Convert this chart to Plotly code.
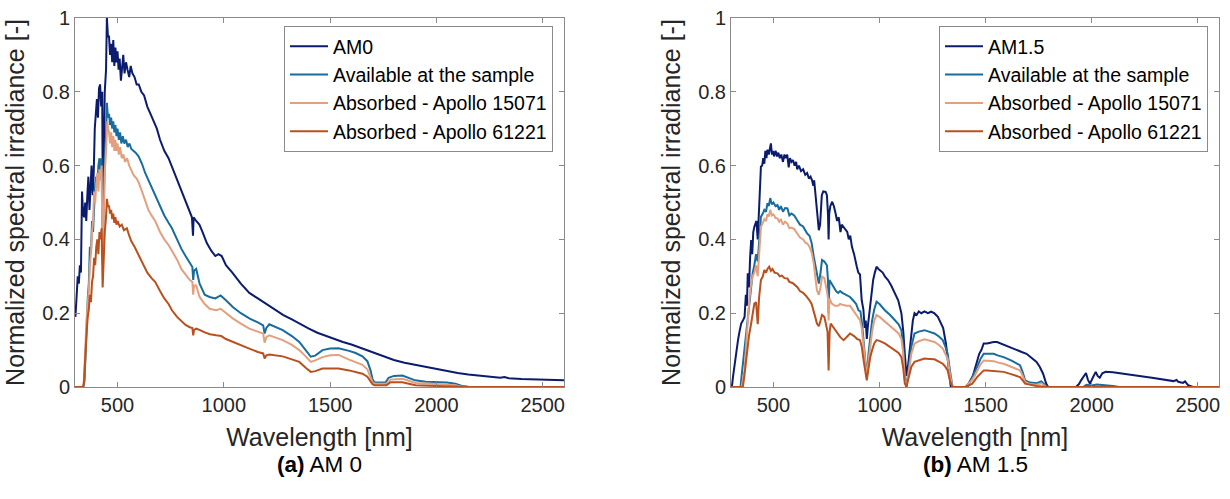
import plotly.graph_objects as go

# ---------------- (a) AM0 ----------------
wl_am0 = [302, 308, 313, 318, 323, 328, 333, 338, 343, 348, 353, 358, 363, 368, 373, 378, 383, 388, 393, 398,
          403, 408, 413, 418, 423, 428, 431, 435, 440, 446, 450, 455, 460, 465, 470, 475, 480, 485, 490, 495,
          500, 505, 510, 516, 520, 527, 533, 540, 547, 555, 562, 570, 580, 590, 600, 612, 625, 640, 655, 670,
          685, 700, 720, 740, 760, 780, 800, 820, 840, 850, 855, 858, 870, 885, 900, 920, 940, 960, 975, 990,
          1010, 1040, 1080, 1120, 1160, 1200, 1240, 1280, 1320, 1360, 1400, 1440, 1480, 1520, 1560, 1600, 1650, 1700, 1750, 1800,
          1850, 1900, 1950, 2000, 2050, 2100, 2150, 2200, 2250, 2300, 2320, 2340, 2400, 2450, 2500, 2550, 2600]
am0 = [0.19, 0.26, 0.30, 0.28, 0.33, 0.31, 0.53, 0.47, 0.46, 0.50, 0.45, 0.52, 0.57, 0.48, 0.55, 0.60, 0.52, 0.58, 0.70, 0.76,
       0.78, 0.73, 0.81, 0.82, 0.76, 0.80, 0.44, 0.62, 0.80, 0.86, 1.00, 0.95, 0.95, 0.90, 0.93, 0.88, 0.94, 0.87, 0.92, 0.88,
       0.91, 0.86, 0.89, 0.83, 0.86, 0.90, 0.85, 0.88, 0.86, 0.84, 0.87, 0.85, 0.84, 0.82, 0.82, 0.80, 0.79, 0.76, 0.74, 0.72,
       0.70, 0.67, 0.64, 0.62, 0.59, 0.56, 0.53, 0.50, 0.47, 0.46, 0.41, 0.46, 0.45, 0.44, 0.42, 0.39, 0.37, 0.355, 0.36, 0.355,
       0.33, 0.31, 0.28, 0.255, 0.24, 0.225, 0.21, 0.195, 0.183, 0.17, 0.158, 0.147, 0.138, 0.13, 0.122, 0.115, 0.104, 0.095, 0.084, 0.073,
       0.066, 0.06, 0.054, 0.048, 0.043, 0.038, 0.034, 0.031, 0.028, 0.025, 0.027, 0.024, 0.022, 0.021, 0.02, 0.019, 0.018]

wl_avail_a = [300, 340, 345, 350, 355, 360, 365, 370, 375, 380, 385, 390, 395, 400, 405, 410, 415, 420, 425, 430,
              434, 440, 446, 450, 455, 460, 465, 470, 475, 480, 485, 490, 495, 500, 506, 512, 518, 525, 532, 540,
              548, 556, 565, 575, 585, 599, 615, 630, 645, 660, 677, 700, 720, 740, 756, 780, 800, 820, 840, 852,
              856, 860, 870, 886, 910, 933, 960, 985, 1010, 1042, 1080, 1120, 1160, 1185, 1192, 1200, 1214, 1240, 1277, 1320,
              1355, 1385, 1409, 1430, 1464, 1500, 1540, 1589, 1620, 1652, 1675, 1690, 1700, 1710, 1760, 1775, 1800, 1840, 1870, 1900,
              1950, 2000, 2050, 2089, 2120, 2150, 2200, 2600]
avail_a = [0, 0, 0.02, 0.10, 0.19, 0.24, 0.28, 0.38, 0.36, 0.45, 0.42, 0.50, 0.55, 0.57, 0.54, 0.60, 0.62, 0.58, 0.62, 0.36,
           0.50, 0.62, 0.68, 0.77, 0.73, 0.74, 0.71, 0.73, 0.70, 0.72, 0.69, 0.71, 0.68, 0.70, 0.67, 0.69, 0.66, 0.68, 0.66, 0.67,
           0.65, 0.66, 0.645, 0.64, 0.635, 0.625, 0.605, 0.58, 0.56, 0.54, 0.52, 0.49, 0.465, 0.445, 0.43, 0.40, 0.375, 0.355, 0.335, 0.325,
           0.29, 0.315, 0.32, 0.28, 0.25, 0.244, 0.24, 0.248, 0.235, 0.217, 0.20, 0.186, 0.175, 0.167, 0.145, 0.16, 0.17, 0.163, 0.154, 0.138,
           0.122, 0.10, 0.082, 0.085, 0.10, 0.104, 0.105, 0.098, 0.092, 0.083, 0.07, 0.045, 0.02, 0.012, 0.012, 0.025, 0.03, 0.031, 0.025, 0.018,
           0.014, 0.013, 0.012, 0.009, 0.003, 0.001, 0.0, 0.0]

wl_abs1_a = [300, 338, 342, 346, 350, 355, 360, 365, 370, 375, 380, 385, 390, 395, 400, 405, 410, 415, 420, 425,
             430, 434, 440, 446, 452, 456, 460, 465, 470, 475, 480, 485, 490, 495, 500, 506, 512, 520, 528, 535,
             545, 555, 565, 575, 590, 599, 615, 630, 645, 660, 677, 700, 720, 740, 756, 780, 800, 820, 840, 852,
             856, 860, 870, 886, 910, 933, 964, 985, 1010, 1042, 1080, 1120, 1160, 1185, 1192, 1200, 1214, 1240, 1277, 1320,
             1355, 1385, 1409, 1430, 1464, 1500, 1540, 1589, 1620, 1652, 1675, 1690, 1700, 1710, 1765, 1785, 1840, 1870, 1902, 2000,
             2089, 2120, 2200, 2600]
abs1_a = [0, 0, 0.02, 0.08, 0.15, 0.19, 0.23, 0.26, 0.33, 0.36, 0.42, 0.45, 0.53, 0.50, 0.55, 0.58, 0.53, 0.59, 0.56, 0.60,
          0.33, 0.47, 0.58, 0.64, 0.72, 0.70, 0.69, 0.66, 0.69, 0.65, 0.68, 0.64, 0.67, 0.64, 0.66, 0.63, 0.65, 0.62, 0.63, 0.61,
          0.62, 0.60, 0.585, 0.575, 0.565, 0.555, 0.53, 0.505, 0.48, 0.465, 0.45, 0.42, 0.40, 0.385, 0.37, 0.345, 0.32, 0.305, 0.29, 0.285,
          0.25, 0.275, 0.275, 0.244, 0.225, 0.212, 0.208, 0.212, 0.20, 0.186, 0.172, 0.158, 0.15, 0.145, 0.12, 0.135, 0.14, 0.135, 0.127, 0.114,
          0.10, 0.083, 0.068, 0.072, 0.081, 0.086, 0.087, 0.074, 0.068, 0.06, 0.048, 0.028, 0.012, 0.009, 0.009, 0.02, 0.022, 0.017, 0.011, 0.008,
          0.005, 0.001, 0.0, 0.0]

wl_abs2_a = [300, 338, 342, 346, 350, 355, 360, 365, 370, 375, 380, 385, 390, 395, 400, 405, 410, 415, 420, 425,
             430, 434, 440, 446, 450, 455, 460, 465, 470, 475, 480, 485, 490, 495, 500, 510, 520, 530, 544, 555,
             565, 580, 599, 620, 640, 660, 677, 700, 720, 740, 756, 780, 800, 820, 840, 852, 856, 860, 870, 886,
             910, 935, 964, 988, 1010, 1042, 1080, 1120, 1160, 1185, 1192, 1200, 1214, 1240, 1277, 1320, 1355, 1385, 1409, 1430,
             1464, 1500, 1540, 1589, 1620, 1652, 1675, 1690, 1700, 1710, 1765, 1785, 1840, 1870, 1902, 2000, 2100, 2150, 2600]
abs2_a = [0, 0, 0.01, 0.06, 0.12, 0.15, 0.19, 0.21, 0.25, 0.23, 0.285, 0.30, 0.35, 0.33, 0.38, 0.40, 0.36, 0.42, 0.40, 0.43,
          0.27, 0.36, 0.42, 0.46, 0.51, 0.49, 0.49, 0.47, 0.48, 0.455, 0.47, 0.445, 0.46, 0.44, 0.45, 0.435, 0.44, 0.425, 0.43, 0.41,
          0.395, 0.38, 0.357, 0.33, 0.31, 0.295, 0.285, 0.26, 0.24, 0.225, 0.208, 0.19, 0.178, 0.168, 0.162, 0.16, 0.14, 0.155, 0.158, 0.155,
          0.148, 0.143, 0.14, 0.138, 0.13, 0.122, 0.112, 0.104, 0.095, 0.091, 0.077, 0.086, 0.088, 0.086, 0.083, 0.075, 0.068, 0.052, 0.041, 0.043,
          0.05, 0.05, 0.05, 0.045, 0.041, 0.036, 0.028, 0.016, 0.007, 0.005, 0.005, 0.013, 0.013, 0.009, 0.005, 0.003, 0.001, 0.0, 0.0]

# ---------------- (b) AM1.5 ----------------
wl_am15 = [300, 305, 310, 317, 325, 333, 340, 348, 356, 364, 370, 375, 379, 385, 390, 395, 400, 405, 410, 415,
           420, 426, 430, 436, 441, 447, 452, 457, 462, 467, 472, 478, 483, 488, 493, 498, 503, 510, 517, 523,
           530, 537, 545, 552, 558, 565, 572, 578, 585, 592, 600, 607, 612, 620, 630, 640, 650, 659, 667, 675,
           682, 688, 692, 697, 705, 714, 720, 728, 735, 746, 752, 757, 760, 763, 768, 777, 785, 793, 800, 808,
           816, 822, 831, 840, 848, 855, 862, 870, 880, 893, 900, 908, 916, 924, 930, 935, 940, 946, 952, 958,
           963, 970, 978, 986, 995, 1005, 1015, 1025, 1040, 1055, 1072, 1088, 1103, 1112, 1119, 1127, 1135, 1142, 1150, 1157,
           1165, 1175, 1185, 1197, 1212, 1228, 1243, 1258, 1275, 1290, 1300, 1313, 1325, 1336, 1414, 1429, 1440, 1450, 1460, 1470,
           1480, 1491, 1507, 1520, 1538, 1554, 1570, 1590, 1616, 1631, 1650, 1670, 1693, 1715, 1740, 1755, 1771, 1785, 1794, 1926,
           1940, 1950, 1962, 1973, 1982, 1992, 2005, 2019, 2028, 2038, 2050, 2066, 2100, 2128, 2160, 2206, 2250, 2284, 2320, 2361,
           2385, 2400, 2408, 2430, 2440, 2454, 2478, 2600]
am15 = [0, 0.005, 0.03, 0.063, 0.10, 0.127, 0.15, 0.172, 0.18, 0.19, 0.25, 0.22, 0.308, 0.27, 0.35, 0.398, 0.36, 0.42, 0.434, 0.44,
        0.45, 0.40, 0.45, 0.55, 0.597, 0.60, 0.62, 0.605, 0.64, 0.62, 0.643, 0.63, 0.65, 0.66, 0.63, 0.64, 0.625, 0.64, 0.625, 0.635,
        0.62, 0.63, 0.61, 0.63, 0.62, 0.63, 0.595, 0.62, 0.61, 0.615, 0.60, 0.61, 0.59, 0.60, 0.585, 0.59, 0.575, 0.58, 0.565, 0.57,
        0.56, 0.545, 0.56, 0.52, 0.48, 0.425, 0.44, 0.52, 0.53, 0.529, 0.52, 0.47, 0.40, 0.47, 0.49, 0.502, 0.49, 0.47, 0.45, 0.46,
        0.42, 0.44, 0.434, 0.425, 0.42, 0.40, 0.41, 0.38, 0.36, 0.326, 0.31, 0.305, 0.235, 0.21, 0.16, 0.18, 0.13, 0.17, 0.20, 0.23,
        0.271, 0.29, 0.31, 0.326, 0.32, 0.315, 0.31, 0.30, 0.29, 0.275, 0.254, 0.235, 0.20, 0.15, 0.091, 0.03, 0.06, 0.10, 0.15, 0.18,
        0.20, 0.195, 0.205, 0.20, 0.205, 0.20, 0.204, 0.20, 0.19, 0.172, 0.16, 0.118, 0.06, 0.0, 0.0, 0.018, 0.03, 0.05, 0.072, 0.09,
        0.10, 0.118, 0.118, 0.12, 0.122, 0.122, 0.118, 0.113, 0.107, 0.104, 0.10, 0.095, 0.09, 0.08, 0.068, 0.055, 0.036, 0.01, 0.0, 0.0,
        0.008, 0.018, 0.03, 0.038, 0.02, 0.009, 0.025, 0.041, 0.03, 0.025, 0.037, 0.041, 0.04, 0.038, 0.036, 0.032, 0.028, 0.025, 0.022, 0.018,
        0.016, 0.019, 0.014, 0.011, 0.015, 0.005, 0.0, 0.0]

wl_avail_b = [300, 345, 350, 356, 365, 372, 380, 387, 395, 402, 410, 418, 426, 432, 441, 450, 457, 465, 472, 478,
              485, 492, 500, 510, 519, 527, 535, 545, 555, 566, 575, 585, 598, 612, 625, 640, 652, 659, 670, 680,
              690, 697, 705, 714, 722, 729, 740, 752, 757, 760, 764, 775, 785, 795, 805, 814, 825, 840, 861, 875,
              890, 901, 910, 917, 925, 932, 940, 948, 956, 965, 975, 986, 1000, 1025, 1050, 1072, 1090, 1103, 1112, 1119,
              1127, 1135, 1142, 1150, 1165, 1185, 1212, 1235, 1259, 1280, 1298, 1310, 1321, 1333, 1344, 1406, 1420, 1437, 1450, 1460,
              1475, 1491, 1507, 1538, 1560, 1585, 1620, 1662, 1675, 1686, 1710, 1740, 1763, 1786, 1800, 1960, 1975, 2000, 2025, 2060,
              2100, 2130, 2600]
avail_b = [0, 0, 0.03, 0.063, 0.118, 0.15, 0.20, 0.24, 0.28, 0.308, 0.33, 0.36, 0.34, 0.39, 0.461, 0.47, 0.48, 0.475, 0.498, 0.49,
           0.512, 0.495, 0.50, 0.49, 0.493, 0.48, 0.49, 0.475, 0.485, 0.484, 0.465, 0.47, 0.465, 0.452, 0.44, 0.435, 0.42, 0.416, 0.41, 0.39,
           0.353, 0.33, 0.299, 0.28, 0.31, 0.344, 0.34, 0.33, 0.29, 0.20, 0.29, 0.28, 0.27, 0.26, 0.255, 0.26, 0.255, 0.25, 0.244, 0.235,
           0.225, 0.208, 0.205, 0.175, 0.127, 0.09, 0.027, 0.09, 0.136, 0.18, 0.21, 0.231, 0.225, 0.208, 0.195, 0.181, 0.17, 0.154, 0.11, 0.027,
           0.0, 0.04, 0.081, 0.11, 0.145, 0.15, 0.154, 0.15, 0.145, 0.137, 0.127, 0.11, 0.09, 0.04, 0.0, 0.0, 0.01, 0.027, 0.04, 0.054,
           0.075, 0.09, 0.09, 0.09, 0.085, 0.081, 0.072, 0.059, 0.04, 0.018, 0.012, 0.01, 0.015, 0.002, 0.0, 0.0, 0.006, 0.004, 0.007, 0.006,
           0.003, 0.0, 0.0]

wl_abs1_b = [300, 350, 356, 364, 372, 379, 387, 395, 402, 410, 418, 426, 432, 441, 450, 457, 465, 472, 478, 485,
             492, 500, 510, 519, 527, 535, 545, 555, 566, 575, 585, 598, 612, 625, 640, 652, 659, 670, 680, 690,
             697, 705, 714, 722, 729, 740, 752, 757, 760, 764, 775, 790, 805, 814, 830, 845, 861, 880, 895, 908,
             916, 925, 932, 940, 948, 956, 965, 975, 986, 1000, 1025, 1050, 1072, 1090, 1103, 1112, 1119, 1127, 1135, 1142,
             1150, 1165, 1185, 1212, 1235, 1259, 1280, 1298, 1310, 1321, 1333, 1344, 1406, 1420, 1437, 1450, 1460, 1475, 1491, 1507,
             1538, 1560, 1585, 1620, 1662, 1675, 1686, 1710, 1740, 1763, 1786, 2600]
abs1_b = [0, 0, 0.02, 0.045, 0.12, 0.19, 0.24, 0.28, 0.30, 0.31, 0.33, 0.30, 0.36, 0.434, 0.445, 0.455, 0.45, 0.468, 0.462, 0.48,
          0.465, 0.468, 0.458, 0.457, 0.448, 0.455, 0.44, 0.448, 0.443, 0.43, 0.432, 0.428, 0.416, 0.405, 0.40, 0.39, 0.389, 0.38, 0.365, 0.335,
          0.30, 0.262, 0.25, 0.27, 0.299, 0.295, 0.26, 0.24, 0.18, 0.24, 0.226, 0.22, 0.22, 0.225, 0.222, 0.22, 0.22, 0.205, 0.19, 0.181,
          0.16, 0.109, 0.07, 0.027, 0.07, 0.109, 0.15, 0.18, 0.195, 0.19, 0.177, 0.166, 0.154, 0.145, 0.131, 0.09, 0.02, 0.0, 0.03, 0.06,
          0.09, 0.118, 0.124, 0.129, 0.125, 0.122, 0.114, 0.104, 0.09, 0.077, 0.03, 0.0, 0.0, 0.008, 0.02, 0.032, 0.045, 0.06, 0.072, 0.072,
          0.07, 0.066, 0.063, 0.055, 0.045, 0.03, 0.014, 0.008, 0.006, 0.01, 0.0, 0.0]

wl_abs2_b = [300, 356, 363, 371, 378, 385, 395, 402, 410, 418, 426, 432, 441, 450, 457, 465, 472, 480, 488, 495,
             505, 519, 530, 540, 552, 566, 575, 590, 600, 612, 625, 640, 652, 659, 670, 680, 690, 697, 705, 714,
             722, 729, 740, 748, 755, 760, 765, 770, 785, 800, 815, 831, 845, 861, 880, 895, 908, 916, 925, 932,
             940, 948, 956, 965, 975, 986, 1000, 1025, 1050, 1072, 1090, 1103, 1112, 1119, 1127, 1135, 1142, 1150, 1165, 1185,
             1212, 1235, 1259, 1280, 1298, 1310, 1321, 1333, 1344, 1406, 1437, 1460, 1475, 1491, 1507, 1540, 1585, 1620, 1662, 1675,
             1686, 1740, 1786, 2600]
abs2_b = [0, 0, 0.03, 0.072, 0.11, 0.14, 0.172, 0.20, 0.226, 0.23, 0.17, 0.24, 0.29, 0.30, 0.317, 0.31, 0.32, 0.326, 0.315, 0.32,
          0.31, 0.308, 0.30, 0.302, 0.295, 0.294, 0.285, 0.282, 0.278, 0.271, 0.26, 0.255, 0.248, 0.244, 0.235, 0.225, 0.208, 0.19, 0.172, 0.165,
          0.18, 0.195, 0.19, 0.172, 0.15, 0.045, 0.15, 0.172, 0.16, 0.145, 0.135, 0.127, 0.135, 0.145, 0.138, 0.13, 0.127, 0.11, 0.072, 0.045,
          0.018, 0.05, 0.08, 0.10, 0.118, 0.127, 0.125, 0.118, 0.108, 0.10, 0.092, 0.081, 0.05, 0.01, 0.0, 0.02, 0.04, 0.055, 0.068, 0.072,
          0.077, 0.076, 0.075, 0.069, 0.063, 0.055, 0.045, 0.015, 0.0, 0.0, 0.009, 0.027, 0.036, 0.045, 0.045, 0.043, 0.041, 0.035, 0.027, 0.018,
          0.009, 0.003, 0.0, 0.0]

names_a = ["AM0", "Available at the sample", "Absorbed - Apollo 15071", "Absorbed - Apollo 61221"]
names_b = ["AM1.5", "Available at the sample", "Absorbed - Apollo 15071", "Absorbed - Apollo 61221"]
colors = ["#0b1c6e", "#186c9e", "#e3a07f", "#b9501e"]

x_ticks = [500, 1000, 1500, 2000, 2500]
y_ticks = [0, 0.2, 0.4, 0.6, 0.8, 1]
y_tick_text = ["0", "0.2", "0.4", "0.6", "0.8", "1"]

W, H = 1230, 499
FONT = "Liberation Sans, Arial, sans-serif"
TXT = "#262626"

fig = go.Figure()

series_a = [(wl_am0, am0), (wl_avail_a, avail_a), (wl_abs1_a, abs1_a), (wl_abs2_a, abs2_a)]
series_b = [(wl_am15, am15), (wl_avail_b, avail_b), (wl_abs1_b, abs1_b), (wl_abs2_b, abs2_b)]

for i, (x, y) in enumerate(series_a):
    fig.add_trace(go.Scatter(x=x, y=y, mode="lines", name=names_a[i],
                             line=dict(color=colors[i], width=2),
                             xaxis="x", yaxis="y", legend="legend"))
for i, (x, y) in enumerate(series_b):
    fig.add_trace(go.Scatter(x=x, y=y, mode="lines", name=names_b[i],
                             line=dict(color=colors[i], width=2),
                             xaxis="x2", yaxis="y2", legend="legend2"))

axis_common = dict(
    showline=True, linecolor="#8a8a8a", linewidth=1, mirror="ticks",
    ticks="inside", ticklen=5, tickcolor="#8a8a8a", tickwidth=1,
    showgrid=False, zeroline=False, automargin=False,
    tickfont=dict(family=FONT, size=20, color=TXT),
)

xd1 = [75 / W, 564 / W]
xd2 = [731 / W, 1219 / W]
yd = [1 - 387 / H, 1 - 18 / H]

xtitle = dict(text="Wavelength [nm]", font=dict(size=25, family=FONT, color=TXT), standoff=13)
ytitle = dict(text="Normalized spectral irradiance [-]", font=dict(size=25, family=FONT, color=TXT), standoff=10)

legend_common = dict(yanchor="top", y=1 - 26 / H, xanchor="right",
                     bgcolor="white", bordercolor="#8a8a8a", borderwidth=1,
                     itemwidth=38,
                     font=dict(family=FONT, size=19.5, color="#000000"))

fig.update_layout(
    width=W, height=H, autosize=False,
    margin=dict(l=0, r=0, t=0, b=0, pad=0, autoexpand=False),
    paper_bgcolor="white", plot_bgcolor="white",
    font=dict(family=FONT, color=TXT),
    xaxis=dict(domain=xd1, range=[300, 2600], tickvals=x_ticks, anchor="y", title=xtitle, **axis_common),
    yaxis=dict(domain=yd, range=[0, 1], tickvals=y_ticks, ticktext=y_tick_text, anchor="x", title=ytitle, **axis_common),
    xaxis2=dict(domain=xd2, range=[300, 2600], tickvals=x_ticks, anchor="y2", title=xtitle, **axis_common),
    yaxis2=dict(domain=yd, range=[0, 1], tickvals=y_ticks, ticktext=y_tick_text, anchor="x2", title=ytitle, **axis_common),
    legend=dict(x=553 / W, **legend_common),
    legend2=dict(x=1208 / W, **legend_common),
    showlegend=True,
    annotations=[
        dict(text="<b>(a)</b> AM 0", x=(75 + 564) / 2 / W, y=1 - 464 / H, xref="paper", yref="paper",
             xanchor="center", yanchor="middle", showarrow=False,
             font=dict(family=FONT, size=22.5, color="#000000")),
        dict(text="<b>(b)</b> AM 1.5", x=(731 + 1219) / 2 / W, y=1 - 464 / H, xref="paper", yref="paper",
             xanchor="center", yanchor="middle", showarrow=False,
             font=dict(family=FONT, size=22.5, color="#000000")),
    ],
)

fig.write_html("out.html", config={"displayModeBar": False},
               post_script="document.body.style.margin='0';document.body.style.overflow='hidden';")
